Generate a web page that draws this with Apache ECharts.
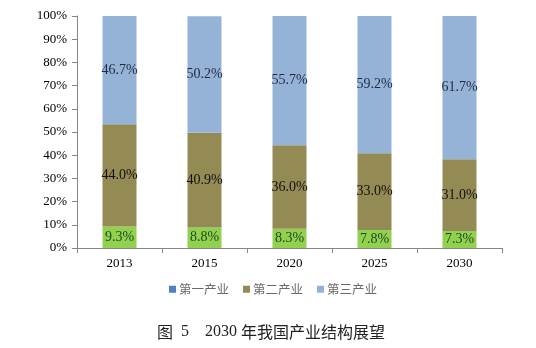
<!DOCTYPE html>
<html>
<head>
<meta charset="utf-8">
<script src="https://cdn.jsdelivr.net/npm/echarts@6/dist/echarts.min.js"></script>
<style>
html,body{margin:0;padding:0;background:#fff;}
#c{width:536px;height:348px;}
</style>
</head>
<body>
<div id="c"></div>
<script>
var categories = ['2013', '2015', '2020', '2025', '2030'];
var seriesNames = ['第一产业', '第二产业', '第三产业'];
var primary = [9.3, 8.8, 8.3, 7.8, 7.3];
var secondary = [44.0, 40.9, 36.0, 33.0, 31.0];
var tertiary = [46.7, 50.2, 55.7, 59.2, 61.7];
var yTicks = [0, 10, 20, 30, 40, 50, 60, 70, 80, 90, 100];
var captionParts = ['图', '5', '2030', '年我国产业结构展望'];

var chart = echarts.init(document.getElementById('c'), null, {renderer: 'canvas'});
var serif = "'Liberation Serif', 'Times New Roman', serif";
var cjk = "'Noto Sans CJK SC', sans-serif";

function lbl(color) {
  return {
    show: true,
    position: 'inside',
    fontFamily: serif,
    fontSize: 14,
    color: color,
    formatter: function (p) { return p.value.toFixed(1) + '%'; }
  };
}

chart.setOption({
  animation: false,
  backgroundColor: '#ffffff',
  grid: {left: 77, right: 34, top: 16, bottom: 100, containLabel: false},
  legend: {
    left: 164,
    top: 278,
    itemWidth: 7,
    itemHeight: 7,
    itemGap: 14,
    icon: 'rect',
    textStyle: {fontFamily: cjk, fontSize: 12.5, color: '#6a6a6a', padding: [0, 0, 0, -2]},
    data: [
      {name: seriesNames[0], itemStyle: {color: '#4F81BD'}},
      {name: seriesNames[1], itemStyle: {color: '#948A54'}},
      {name: seriesNames[2], itemStyle: {color: '#95B3D7'}}
    ]
  },
  title: {
    text: '{c|' + captionParts[0] + '}{s|  }{n|' + captionParts[1] + '}{s|    }{n|' + captionParts[2] + '}{s| }{c|' + captionParts[3] + '}',
    left: 157,
    top: 322,
    padding: 0,
    textStyle: {
      fontWeight: 'normal',
      rich: {
        c: {fontFamily: cjk, fontSize: 16, lineHeight: 20, color: '#222', verticalAlign: 'middle'},
        n: {fontFamily: serif, fontSize: 16, lineHeight: 20, color: '#222', verticalAlign: 'middle'},
        s: {fontFamily: serif, fontSize: 16, lineHeight: 20, color: '#222', verticalAlign: 'middle'}
      }
    }
  },
  xAxis: {
    type: 'category',
    data: categories,
    axisLine: {lineStyle: {color: '#868686', width: 1}},
    axisTick: {show: true, alignWithLabel: false, length: 5, lineStyle: {color: '#868686'}},
    axisLabel: {fontFamily: serif, fontSize: 13, color: '#000', margin: 9}
  },
  yAxis: {
    type: 'value',
    min: yTicks[0],
    max: yTicks[yTicks.length - 1],
    interval: 10,
    splitLine: {show: false},
    axisLine: {show: true, lineStyle: {color: '#868686', width: 1}},
    axisTick: {show: true, length: 5, lineStyle: {color: '#868686'}},
    axisLabel: {fontFamily: serif, fontSize: 13, color: '#000', margin: 10, formatter: '{value}%'}
  },
  series: [
    {name: seriesNames[0], type: 'bar', stack: 's', data: primary, barWidth: '40%',
     itemStyle: {color: '#92D050'}, label: lbl('#1E4D1E')},
    {name: seriesNames[1], type: 'bar', stack: 's', data: secondary, barWidth: '40%',
     itemStyle: {color: '#948A54'}, label: lbl('#111')},
    {name: seriesNames[2], type: 'bar', stack: 's', data: tertiary, barWidth: '40%',
     itemStyle: {color: '#95B3D7'}, label: lbl('#1F2A44')}
  ]
});
</script>
</body>
</html>
